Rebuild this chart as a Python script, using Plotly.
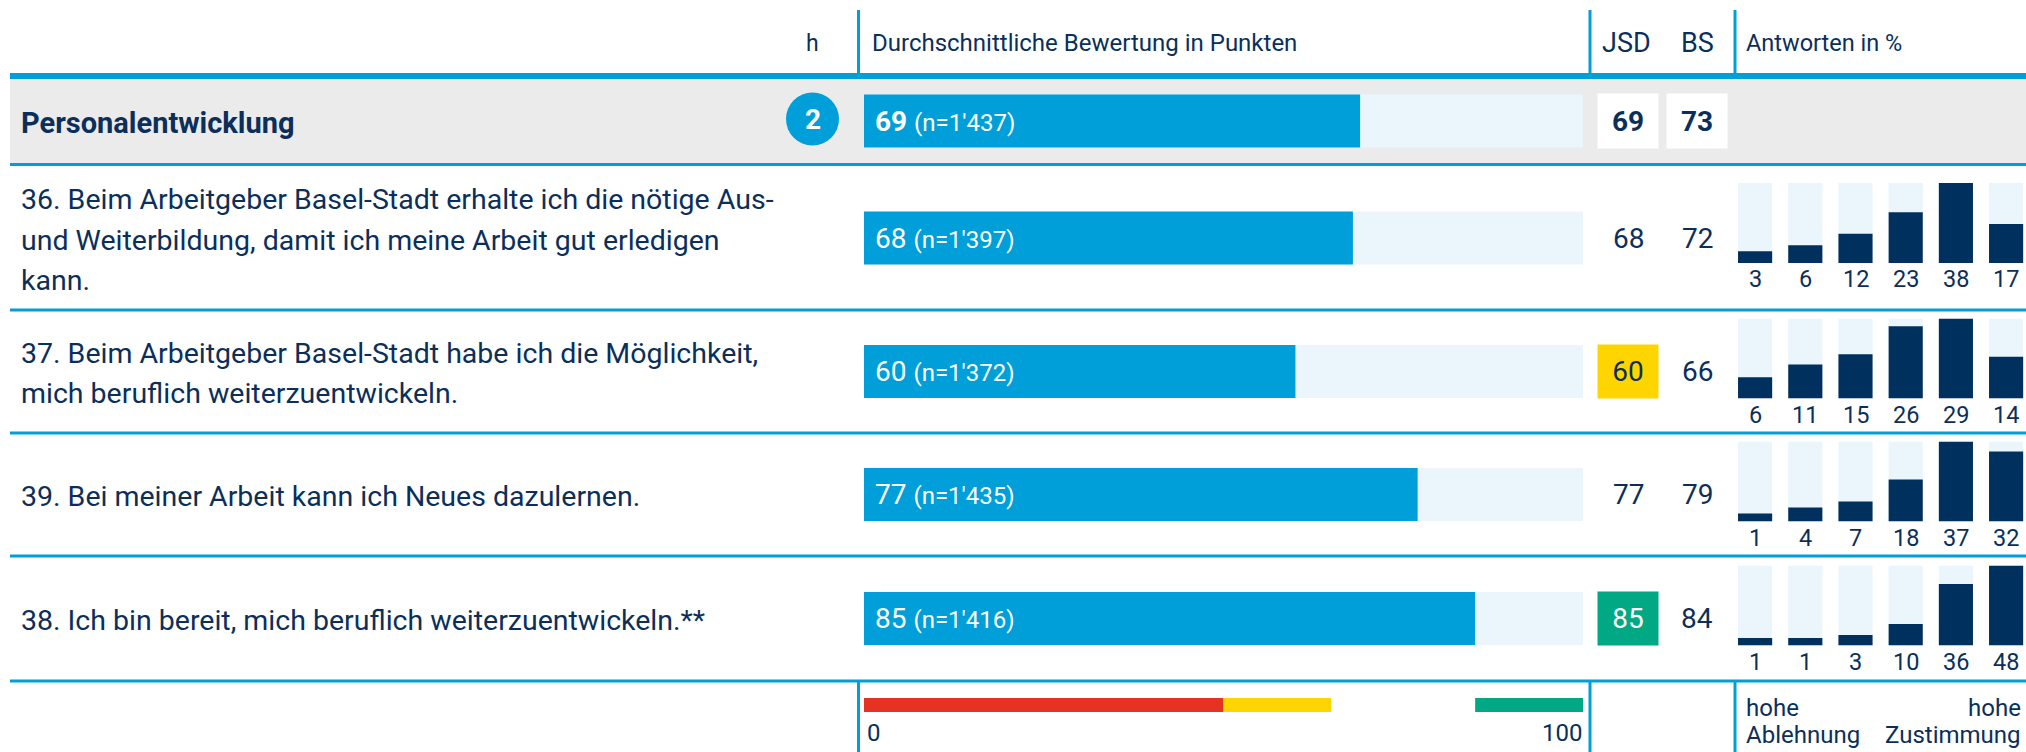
import plotly.graph_objects as go

# ------------------------------------------------------------------ data
section_title = "Personalentwicklung"
section_h = 2
section_score = 69
section_n = "1'437"
section_jsd = 69
section_bs = 73

question_lines = [
    ["36. Beim Arbeitgeber Basel-Stadt erhalte ich die nötige Aus-",
     "und Weiterbildung, damit ich meine Arbeit gut erledigen",
     "kann."],
    ["37. Beim Arbeitgeber Basel-Stadt habe ich die Möglichkeit,",
     "mich beruflich weiterzuentwickeln."],
    ["39. Bei meiner Arbeit kann ich Neues dazulernen."],
    ["38. Ich bin bereit, mich beruflich weiterzuentwickeln.**"],
]
scores = [68, 60, 77, 85]
n_counts = ["1'397", "1'372", "1'435", "1'416"]
jsd_values = [68, 60, 77, 85]
bs_values = [72, 66, 79, 84]
answers = [
    [3, 6, 12, 23, 38, 17],
    [6, 11, 15, 26, 29, 14],
    [1, 4, 7, 18, 37, 32],
    [1, 1, 3, 10, 36, 48],
]
answer_categories = [0, 1, 2, 3, 4, 5]
band_start = [0, 50, 85]
band_end = [50, 65, 100]
scale_min_label = "0"
scale_max_label = "100"
header_h = "h"
header_score = "Durchschnittliche Bewertung in Punkten"
header_jsd = "JSD"
header_bs = "BS"
header_answers = "Antworten in %"
footer_left = ["hohe", "Ablehnung"]
footer_right = ["hohe", "Zustimmung"]

# ------------------------------------------------------------------ styles / layout
W, H = 2026, 752
FONT = "Roboto"
NAVY = "#0B2F5A"
BAR_NAVY = "#00305E"
BLUE = "#009FD9"
LIGHT = "#EAF5FC"
GRAY = "#EBEBEB"
RED = "#E53222"
YELLOW = "#FFD500"
GREEN = "#00A984"
band_colors = [RED, YELLOW, GREEN]

SCORE_X0, SCORE_X1 = 864, 1583
MINI_X0, MINI_STEP = 1730, 50.2
HEAD_Y = 121
ROW_Y = [238, 371.5, 494.5, 618.5]
ROW_BOUNDS = [310, 433, 556, 681]
BAR_H = 53
MINI_H = 80
MINI_BASE_PX = 6
JSD_X, BS_X = 1628, 1697
SEP_X = [858.5, 1590, 1735]
LINE_X0 = 10


def px(x):
    return x / W


fig = go.Figure()

fig.update_layout(
    xaxis=dict(domain=[px(SCORE_X0), px(SCORE_X1)], range=[0, 100], visible=False,
               fixedrange=True),
    yaxis=dict(domain=[0, 1], range=[H, 0], visible=False, fixedrange=True),
    xaxis2=dict(domain=[px(MINI_X0), 1], range=[-0.5, -0.5 + (W - MINI_X0) / MINI_STEP],
                visible=False, anchor="y3", fixedrange=True),
)

all_y = [HEAD_Y] + ROW_Y
fig.add_trace(go.Bar(x=[100] * len(all_y), y=all_y, orientation="h", width=BAR_H,
                     marker=dict(color=LIGHT, line=dict(width=0)),
                     hoverinfo="skip", showlegend=False))
fig.add_trace(go.Bar(x=[section_score] + scores, y=all_y, orientation="h", width=BAR_H,
                     marker=dict(color=BLUE, line=dict(width=0)),
                     hoverinfo="skip", showlegend=False))
fig.add_trace(go.Bar(x=[e - s for s, e in zip(band_start, band_end)], base=band_start,
                     y=[705] * 3, orientation="h", width=14,
                     marker=dict(color=band_colors, line=dict(width=0)),
                     hoverinfo="skip", showlegend=False))

annotations = []
shapes = []

for k, vals in enumerate(answers):
    ax = 3 + k
    bottom = ROW_Y[k] + 27 if k else ROW_Y[k] + 25
    top = bottom - MINI_H
    vmax = max(vals)
    off = vmax * MINI_BASE_PX / (MINI_H - MINI_BASE_PX)
    fig.update_layout(**{
        f"yaxis{ax}": dict(domain=[1 - bottom / H, 1 - top / H], range=[-off, vmax],
                           visible=False, anchor="x2", fixedrange=True)
    })
    fig.add_trace(go.Bar(x=answer_categories, y=[vmax + off] * 6, base=-off, width=0.68,
                         marker=dict(color=LIGHT, line=dict(width=0)),
                         xaxis="x2", yaxis=f"y{ax}", hoverinfo="skip", showlegend=False))
    fig.add_trace(go.Bar(x=answer_categories, y=[v + off for v in vals], base=-off,
                         width=0.68, marker=dict(color=BAR_NAVY, line=dict(width=0)),
                         xaxis="x2", yaxis=f"y{ax}", hoverinfo="skip", showlegend=False))
    for c, v in zip(answer_categories, vals):
        annotations.append(dict(x=c, y=0, xref="x2", yref=f"y{ax} domain", text=str(v),
                                showarrow=False, xanchor="center", yanchor="top", yshift=0,
                                font=dict(family=FONT, size=23.5, color=NAVY)))

fig.update_layout(barmode="overlay")

shapes.append(dict(type="rect", xref="paper", yref="y", x0=px(LINE_X0), x1=1, y0=79, y1=163,
                   fillcolor=GRAY, line=dict(width=0), layer="below"))
shapes.append(dict(type="line", xref="paper", yref="y", x0=px(LINE_X0), x1=1, y0=76, y1=76,
                   line=dict(color=BLUE, width=6)))
shapes.append(dict(type="line", xref="paper", yref="y", x0=px(LINE_X0), x1=1, y0=164.5, y1=164.5,
                   line=dict(color=BLUE, width=3)))
for yb in ROW_BOUNDS:
    shapes.append(dict(type="line", xref="paper", yref="y", x0=px(LINE_X0), x1=1, y0=yb, y1=yb,
                       line=dict(color=BLUE, width=3)))
for sx in SEP_X:
    shapes.append(dict(type="line", xref="paper", yref="y", x0=px(sx), x1=px(sx), y0=10, y1=73,
                       line=dict(color=BLUE, width=3)))
    shapes.append(dict(type="line", xref="paper", yref="y", x0=px(sx), x1=px(sx), y0=682, y1=H,
                       line=dict(color=BLUE, width=3)))
shapes.append(dict(type="circle", xref="paper", yref="y", x0=px(786), x1=px(839),
                   y0=HEAD_Y - 28.5, y1=HEAD_Y + 24.5, fillcolor=BLUE, line=dict(width=0)))


def text(x, y, s, size, xanchor="left", color=NAVY, bold=False, xref="paper", **kw):
    d = dict(x=x, y=y, xref=xref, yref="y", text=f"<b>{s}</b>" if bold else s,
             showarrow=False, xanchor=xanchor, yanchor="middle",
             font=dict(family=FONT, size=size, color=color))
    d.update(kw)
    annotations.append(d)


# header
text(px(812), 43, header_h, 23, "center")
text(px(870), 43, header_score, 24)
text(px(1626), 43, header_jsd, 27, "center")
text(px(1697), 43, header_bs, 27, "center")
text(px(1744), 43, header_answers, 23.5)

# section row
text(px(19), 123, section_title, 29, bold=True)
text(px(812.5), HEAD_Y - 2, str(section_h), 28, "center", color="white", bold=True)
text(0, HEAD_Y, f"<b>{section_score}</b> <span style='font-size:24px'>(n={section_n})</span>",
     28, color="white", xref="x", xshift=9)
for xv, val in [(JSD_X, section_jsd), (BS_X, section_bs)]:
    text(px(xv), HEAD_Y, f"<b>{val}</b>", 28, "center", bgcolor="white", width=60, height=54,
         borderpad=0)

# question rows
for k in range(len(scores)):
    yc = ROW_Y[k]
    lines = question_lines[k]
    for i, ln in enumerate(lines):
        text(px(19), yc + 2 + (i - (len(lines) - 1) / 2) * 40.5, ln, 28.5)
    text(0, yc, f"{scores[k]} <span style='font-size:24px'>(n={n_counts[k]})</span>", 28,
         color="white", xref="x", xshift=9)
    j = jsd_values[k]
    if band_start[1] <= j < band_end[1]:
        text(px(JSD_X), yc, str(j), 28, "center", bgcolor=YELLOW, width=60, height=53,
             borderpad=0)
    elif band_start[2] <= j <= band_end[2]:
        text(px(JSD_X), yc, str(j), 28, "center", color="white", bgcolor=GREEN, width=60,
             height=53, borderpad=0)
    elif j < band_end[0]:
        text(px(JSD_X), yc, str(j), 28, "center", color="white", bgcolor=RED, width=60,
             height=53, borderpad=0)
    else:
        text(px(JSD_X), yc, str(j), 28, "center")
    text(px(BS_X), yc, str(bs_values[k]), 28, "center")

# footer
text(px(865), 733, scale_min_label, 24)
text(px(1584), 733, scale_max_label, 24, "right")
text(px(1744), 708, footer_left[0], 24)
text(px(1744), 735, footer_left[1], 24)
text(px(2023), 708, footer_right[0], 24, "right")
text(px(2023), 735, footer_right[1], 24, "right")

fig.update_layout(
    width=W, height=H, margin=dict(l=0, r=0, t=0, b=0),
    paper_bgcolor="white", plot_bgcolor="rgba(0,0,0,0)",
    shapes=shapes, annotations=annotations, showlegend=False,
    font=dict(family=FONT, color=NAVY),
)

fig.write_html("out.html", config={"displayModeBar": False},
               post_script="document.body.style.margin='0';document.body.style.padding='0';")
